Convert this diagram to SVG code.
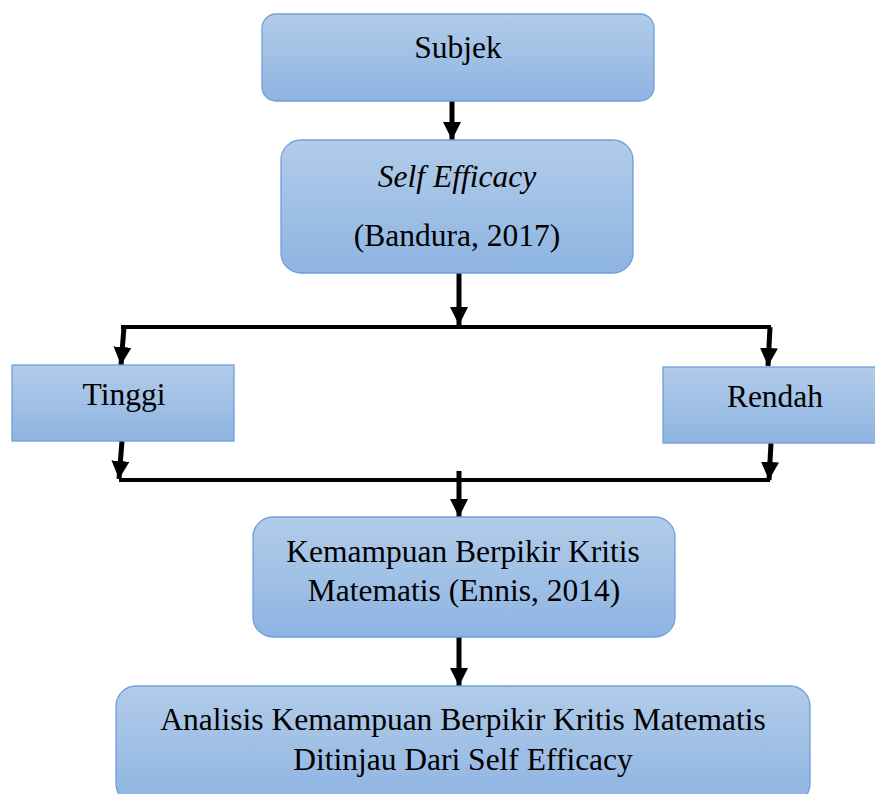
<svg xmlns="http://www.w3.org/2000/svg" width="875" height="794" viewBox="0 0 875 794">
<defs>
<linearGradient id="g" x1="0" y1="0" x2="0" y2="1">
<stop offset="0" stop-color="#b2cce9"/>
<stop offset="1" stop-color="#8eb4e2"/>
</linearGradient>
<marker id="ah" viewBox="0 0 10 10" refX="10" refY="5" markerWidth="3.6" markerHeight="3.6" markerUnits="strokeWidth" orient="auto">
<path d="M0,0 L10,5 L0,10 Z" fill="#000"/>
</marker>
</defs>
<style>
.box{fill:url(#g);stroke:#6f9fd8;stroke-width:1.3}
.t{font-size:31.5px;fill:#000;text-anchor:middle}
.i{font-style:italic}
.a{stroke:#000;stroke-width:5;fill:none;marker-end:url(#ah)}
.l{stroke:#000;stroke-width:4;fill:none}
</style>
<rect width="875" height="794" fill="#fff"/>
<g id="connectors">
<line class="a" x1="452" y1="101" x2="452" y2="140"/>
<line class="a" x1="459" y1="273" x2="459" y2="325"/>
<polyline class="l" points="121,327 771,327"/>
<line class="a" x1="124" y1="327" x2="121" y2="365"/>
<line class="a" x1="770" y1="327" x2="768" y2="366"/>
<line class="a" x1="122" y1="441" x2="119" y2="479"/>
<line class="a" x1="771" y1="443" x2="769" y2="480"/>
<polyline class="l" points="119,480 770,480"/>
<line class="a" x1="459" y1="471" x2="459" y2="517"/>
<line class="a" x1="459" y1="637" x2="459" y2="686"/>
</g>
<g font-family="'Liberation Serif', 'DejaVu Serif', serif">
<g id="subjek">
<rect class="box" x="262" y="14" width="392" height="87" rx="14"/>
<text class="t" x="458" y="58">Subjek</text>
</g>
<g id="self-efficacy">
<rect class="box" x="281" y="140" width="352" height="133" rx="20"/>
<text class="t i" x="457" y="187">Self Efficacy</text>
<text class="t" x="457" y="246">(Bandura, 2017)</text>
</g>
<g id="tinggi">
<rect class="box" x="12" y="365" width="222" height="76"/>
<text class="t" x="124" y="405">Tinggi</text>
</g>
<g id="rendah">
<rect class="box" x="663" y="367" width="215" height="76"/>
<text class="t" x="775" y="407">Rendah</text>
</g>
<g id="kemampuan">
<rect class="box" x="253" y="517" width="422" height="120" rx="20"/>
<text class="t" x="463" y="562">Kemampuan Berpikir Kritis</text>
<text class="t" x="464" y="601">Matematis (Ennis, 2014)</text>
</g>
<g id="analisis">
<rect class="box" x="116" y="686" width="694" height="118" rx="20"/>
<text class="t" x="463" y="730">Analisis Kemampuan Berpikir Kritis Matematis</text>
<text class="t" x="463" y="770">Ditinjau Dari Self Efficacy</text>
</g>
</g>
</svg>
